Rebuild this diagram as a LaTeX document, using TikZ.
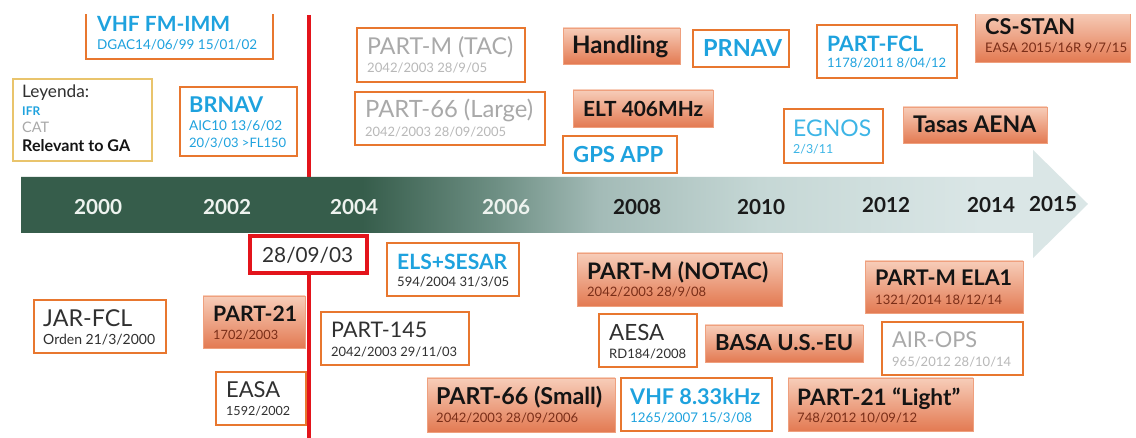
\documentclass[tikz,border=0pt]{standalone}
\usepackage{fontspec}
\usepackage{graphicx}
\setmainfont{Lato}
\usetikzlibrary{fit}

\definecolor{boxorange}{HTML}{E8772F}
\definecolor{hottop}{HTML}{F7CDB9}
\definecolor{hotbottom}{HTML}{E37A52}
\definecolor{hotedge}{HTML}{EFA07E}
\definecolor{hotsub}{HTML}{7A2E18}
\definecolor{ifrblue}{HTML}{1EA2DE}
\definecolor{egnosblue}{HTML}{3DB5E6}
\definecolor{catgray}{HTML}{A9A9A9}
\definecolor{catgraylt}{HTML}{B8B8B8}
\definecolor{ink}{HTML}{141414}
\definecolor{darktxt}{HTML}{303030}
\definecolor{legendline}{HTML}{E9C46C}
\definecolor{datered}{HTML}{E3141B}
\definecolor{yearlight}{HTML}{EEF3EF}
\definecolor{yeardark}{HTML}{1A1A1A}
\definecolor{tlA}{HTML}{365D4B}
\definecolor{tlB}{HTML}{6F9085}
\definecolor{tlC}{HTML}{A3BBB7}
\definecolor{tlD}{HTML}{C5D7D5}
\definecolor{tlE}{HTML}{DAE6E6}

% timeline bar: dark green on the left fading to pale grey-blue
\pgfdeclarehorizontalshading{timeline}{100bp}{%
  color(0bp)=(tlA); color(41bp)=(tlA); color(47.4bp)=(tlB);
  color(52.1bp)=(tlC); color(59.6bp)=(tlD); color(70bp)=(tlE);
  color(100bp)=(tlE)}

\tikzset{
  plainbox/.style={draw=boxorange, line width=2.2pt, fill=white, inner sep=0pt},
  hotbox/.style={draw=hotedge, line width=0.8pt, top color=hottop,
                 bottom color=hotbottom, inner sep=0pt},
  legendbox/.style={draw=legendline, line width=2pt, fill=white, inner sep=0pt},
  datebox/.style={draw=datered, line width=4pt, fill=white, inner sep=0pt},
  redline/.style={draw=datered, line width=4pt},
  txt/.style={anchor=base west, inner sep=0pt},
  ttl/.style={txt, font=\bfseries\fontsize{20}{24}\selectfont},
  rttl/.style={txt, font=\fontsize{20}{24}\selectfont},
  sub/.style={txt, font=\fontsize{12}{14}\selectfont},
  leg/.style={txt, font=\fontsize{13}{15}\selectfont},
  legb/.style={txt, font=\bfseries\fontsize{13}{15}\selectfont},
  year/.style={txt, font=\bfseries\fontsize{21}{24}\selectfont},
}

% box: name, style, x1, y1, x2, y2
\newcommand\evbox[6]{\node[#2, fit={(#3,#4)(#5,#6)}] (#1) {};}
% text: name, style, x, baseline, width, text
\newcommand\evlabel[6]{\node[#2] (#1) at (#3,#4) {\resizebox{#5pt}{!}{#6}};}

\begin{document}
\begin{tikzpicture}[x=1pt, y=-1pt]
\useasboundingbox (0,0) rectangle (1136,438);
\fill[white] (0,0) rectangle (1136,438);

\begin{scope}
\clip (0,15) rectangle (1136,438);

\coordinate (topedge) at (0,15);
\coordinate (barline) at (0,177);
\coordinate (bottomedge) at (0,440);

% the 28/09/03 marker box (its line is drawn further down)
\evbox{date}{datebox}{250}{236}{367}{273}
\draw[redline] (date.north |- topedge) -- (date.north |- barline);

% timeline arrow
\path[shading=timeline] (21,177) -- (1033,177) -- (1033,150) -- (1088,204)
  -- (1033,258) -- (1033,233) -- (21,233) -- cycle;

\evlabel{y2000}{year, text=yearlight}{74}{215}{48}{2000}
\evlabel{y2002}{year, text=yearlight}{203}{215}{48}{2002}
\evlabel{y2004}{year, text=yearlight}{330}{215}{48}{2004}
\evlabel{y2006}{year, text=yearlight}{482}{215}{48}{2006}
\evlabel{y2008}{year, text=yeardark}{613}{215}{48}{2008}
\evlabel{y2010}{year, text=yeardark}{737}{215}{48}{2010}
\evlabel{y2012}{year, text=yeardark}{862}{213}{48}{2012}
\evlabel{y2014}{year, text=yeardark}{967}{213}{48}{2014}
\evlabel{y2015}{year, text=yeardark}{1029}{212}{48}{2015}

% ---- above the timeline ----
\evbox{vhffm}{plainbox}{86}{12}{273}{59}
\evlabel{vhffm-t}{ttl, text=ifrblue}{97}{32}{133}{VHF FM-IMM}
\evlabel{vhffm-s}{sub, text=ifrblue}{97}{50}{160}{DGAC14/06/99 15/01/02}

\evbox{legend}{legendbox}{13}{79}{152}{161}
\evlabel{legend-a}{leg, text=darktxt}{22}{98}{67}{Leyenda:}
\evlabel{legend-b}{legb, text=ifrblue}{22}{116}{18}{IFR}
\evlabel{legend-c}{leg, text=catgray}{22}{133}{27}{CAT}
\evlabel{legend-d}{legb, text=ink}{22}{152}{108}{Relevant to GA}

\evbox{brnav}{plainbox}{180}{87}{297}{156}
\evlabel{brnav-t}{ttl, text=ifrblue}{189}{113}{74}{BRNAV}
\evlabel{brnav-s1}{sub, text=ifrblue}{189}{131}{93}{AIC10 13/6/02}
\evlabel{brnav-s2}{sub, text=ifrblue}{189}{148}{97}{20/3/03 >FL150}

\evbox{partmtac}{plainbox}{357}{28}{525}{82}
\evlabel{partmtac-t}{rttl, text=catgray}{367}{55}{146}{PART-M (TAC)}
\evlabel{partmtac-s}{sub, text=catgraylt}{367}{73}{120}{2042/2003 28/9/05}

\evbox{part66l}{plainbox}{355}{92}{545}{145}
\evlabel{part66l-t}{rttl, text=catgray}{365}{118}{168}{PART-66 (Large)}
\evlabel{part66l-s}{sub, text=catgraylt}{365}{137}{141}{2042/2003 28/09/2005}

\evbox{handling}{hotbox}{563}{28}{680}{64}
\evlabel{handling-t}{ttl, text=ink}{572}{54}{96}{Handling}

\evbox{prnav}{plainbox}{693}{30}{789}{67}
\evlabel{prnav-t}{ttl, text=ifrblue}{703}{57}{79}{PRNAV}

\evbox{partfcl}{plainbox}{817}{25}{957}{78}
\evlabel{partfcl-t}{ttl, text=ifrblue}{827}{52}{96}{PART-FCL}
\evlabel{partfcl-s}{sub, text=ifrblue}{827}{68}{119}{1178/2011 8/04/12}

\evbox{csstan}{hotbox}{975}{12}{1130}{62}
\evlabel{csstan-t}{ttl, text=ink}{985}{35}{90}{CS-STAN}
\evlabel{csstan-s}{sub, text=hotsub}{985}{53}{142}{EASA 2015/16R 9/7/15}

\evbox{elt}{hotbox}{573}{90}{713}{127}
\evlabel{elt-t}{ttl, text=ink}{583}{117}{120}{ELT 406MHz}

\evbox{gpsapp}{plainbox}{563}{136}{677}{173}
\evlabel{gpsapp-t}{ttl, text=ifrblue}{573}{163}{90}{GPS APP}

\evbox{egnos}{plainbox}{784}{109}{883}{163}
\evlabel{egnos-t}{rttl, text=egnosblue}{793}{137}{78}{EGNOS}
\evlabel{egnos-s}{sub, text=egnosblue}{793}{154}{40}{2/3/11}

\evbox{tasas}{hotbox}{903}{107}{1047}{143}
\evlabel{tasas-t}{ttl, text=ink}{913}{133}{123}{Tasas AENA}

% ---- below the timeline ----
\evlabel{date-t}{rttl, text=darktxt}{262}{263}{91}{28/09/03}

\evbox{jarfcl}{plainbox}{34}{300}{166}{353}
\evlabel{jarfcl-t}{rttl, text=darktxt}{43}{327}{89}{JAR-FCL}
\evlabel{jarfcl-s}{sub, text=darktxt}{43}{345}{112}{Orden 21/3/2000}

\evbox{part21}{hotbox}{203}{296}{305}{348}
\evlabel{part21-t}{ttl, text=ink}{213}{322}{84}{PART-21}
\evlabel{part21-s}{sub, text=hotsub}{213}{340}{65}{1702/2003}

\evbox{easa}{plainbox}{216}{372}{306}{425}
\evlabel{easa-t}{rttl, text=darktxt}{226}{398}{54}{EASA}
\evlabel{easa-s}{sub, text=darktxt}{226}{416}{64}{1592/2002}

\evbox{els}{plainbox}{387}{243}{519}{296}
\evlabel{els-t}{ttl, text=ifrblue}{397}{270}{110}{ELS+SESAR}
\evlabel{els-s}{sub, text=darktxt}{397}{287}{112}{594/2004 31/3/05}

\evbox{part145}{plainbox}{321}{312}{469}{365}
\evlabel{part145-t}{rttl, text=darktxt}{331}{338}{96}{PART-145}
\evlabel{part145-s}{sub, text=darktxt}{331}{357}{126}{2042/2003 29/11/03}

\evbox{partmnotac}{hotbox}{577}{253}{782}{306}
\evlabel{partmnotac-t}{ttl, text=ink}{587}{280}{181}{PART-M (NOTAC)}
\evlabel{partmnotac-s}{sub, text=hotsub}{587}{297}{119}{2042/2003 28/9/08}

\evbox{aesa}{plainbox}{599}{314}{697}{367}
\evlabel{aesa-t}{rttl, text=darktxt}{609}{341}{55}{AESA}
\evlabel{aesa-s}{sub, text=darktxt}{609}{359}{77}{RD184/2008}

\evbox{basa}{hotbox}{705}{325}{863}{362}
\evlabel{basa-t}{ttl, text=ink}{715}{351}{138}{BASA U.S.-EU}

\evbox{partmela}{hotbox}{865}{261}{1023}{313}
\evlabel{partmela-t}{ttl, text=ink}{875}{286}{137}{PART-M ELA1}
\evlabel{partmela-s}{sub, text=hotsub}{875}{305}{127}{1321/2014 18/12/14}

\evbox{airops}{plainbox}{882}{322}{1023}{375}
\evlabel{airops-t}{rttl, text=catgray}{892}{348}{85}{AIR-OPS}
\evlabel{airops-s}{sub, text=catgraylt}{892}{367}{119}{965/2012 28/10/14}

\evbox{part66s}{hotbox}{427}{378}{615}{432}
\evlabel{part66s-t}{ttl, text=ink}{436}{405}{166}{PART-66 (Small)}
\evlabel{part66s-s}{sub, text=hotsub}{436}{422}{142}{2042/2003 28/09/2006}

\evbox{vhf833}{plainbox}{621}{378}{772}{431}
\evlabel{vhf833-t}{ttl, text=ifrblue}{630}{405}{130}{VHF 8.33kHz}
\evlabel{vhf833-s}{sub, text=ifrblue}{630}{422}{122}{1265/2007 15/3/08}

\evbox{part21l}{hotbox}{788}{378}{973}{431}
\evlabel{part21l-t}{ttl, text=ink}{797}{406}{163}{PART-21 “Light”}
\evlabel{part21l-s}{sub, text=hotsub}{797}{423}{120}{748/2012 10/09/12}

% the marker line runs down from the date box
\draw[redline] (date.south) -- (date.south |- bottomedge);
\end{scope}
\end{tikzpicture}
\end{document}
